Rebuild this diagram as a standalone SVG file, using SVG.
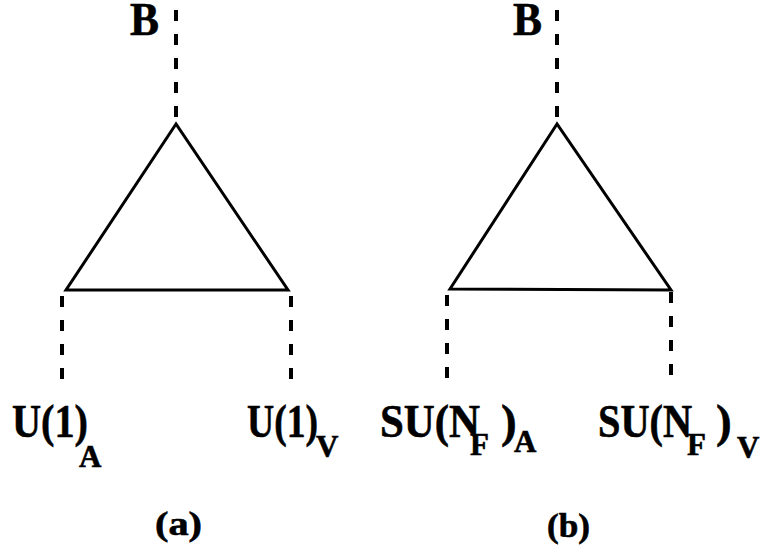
<svg xmlns="http://www.w3.org/2000/svg" width="761" height="550" viewBox="0 0 761 550">
<style>
.tri{fill:none;stroke:#000;stroke-width:3;stroke-linejoin:miter}
.dash{stroke:#000;stroke-width:4;stroke-dasharray:11 13;fill:none}
text{font-family:"Liberation Serif","Times New Roman",serif;font-weight:bold;fill:#000;stroke:#000;stroke-width:0.6}
.big{font-size:47px}
.sub{font-size:31px}
.cap{font-size:34px}
</style>
<rect width="761" height="550" fill="#fff"/>
<g id="connectors">
<line class="dash" x1="176" y1="10" x2="176" y2="124"/>
<line class="dash" x1="62" y1="296" x2="62" y2="383"/>
<line class="dash" x1="291" y1="296" x2="291" y2="383"/>
<line class="dash" x1="557" y1="10" x2="557" y2="124"/>
<line class="dash" x1="447" y1="295" x2="447" y2="383"/>
<line class="dash" x1="671" y1="292" x2="671" y2="380"/>
</g>
<g id="triangle-a"><polygon class="tri" points="176,124 66,290 288,290"/></g>
<g id="triangle-b"><polygon class="tri" points="557,124 450,289 671,290"/></g>
<g id="label-B-a"><text class="big" x="130" y="35" font-size="48" textLength="29" lengthAdjust="spacingAndGlyphs">B</text></g>
<g id="label-B-b"><text class="big" x="513" y="35" font-size="48" textLength="29" lengthAdjust="spacingAndGlyphs">B</text></g>
<g id="label-U1A"><text class="big" x="12" y="437" textLength="76" lengthAdjust="spacingAndGlyphs">U(1)</text><text class="sub" x="79" y="467">A</text></g>
<g id="label-U1V"><text class="big" x="247" y="437" textLength="71" lengthAdjust="spacingAndGlyphs">U(1)</text><text class="sub" x="316" y="457">V</text></g>
<g id="label-SUA"><text class="big" x="380" y="437" textLength="100" lengthAdjust="spacingAndGlyphs">SU(N</text><text class="sub" x="470" y="455">F</text><text class="big" x="501" y="437">)</text><text class="sub" x="514" y="452">A</text></g>
<g id="label-SUV"><text class="big" x="598" y="437" textLength="94" lengthAdjust="spacingAndGlyphs">SU(N</text><text class="sub" x="687" y="455">F</text><text class="big" x="716" y="437">)</text><text class="sub" x="737" y="458">V</text></g>
<g id="caption-a"><text class="cap" x="155" y="535" textLength="47" lengthAdjust="spacingAndGlyphs">(a)</text></g>
<g id="caption-b"><text class="cap" x="547" y="537" textLength="43" lengthAdjust="spacingAndGlyphs">(b)</text></g>
</svg>
